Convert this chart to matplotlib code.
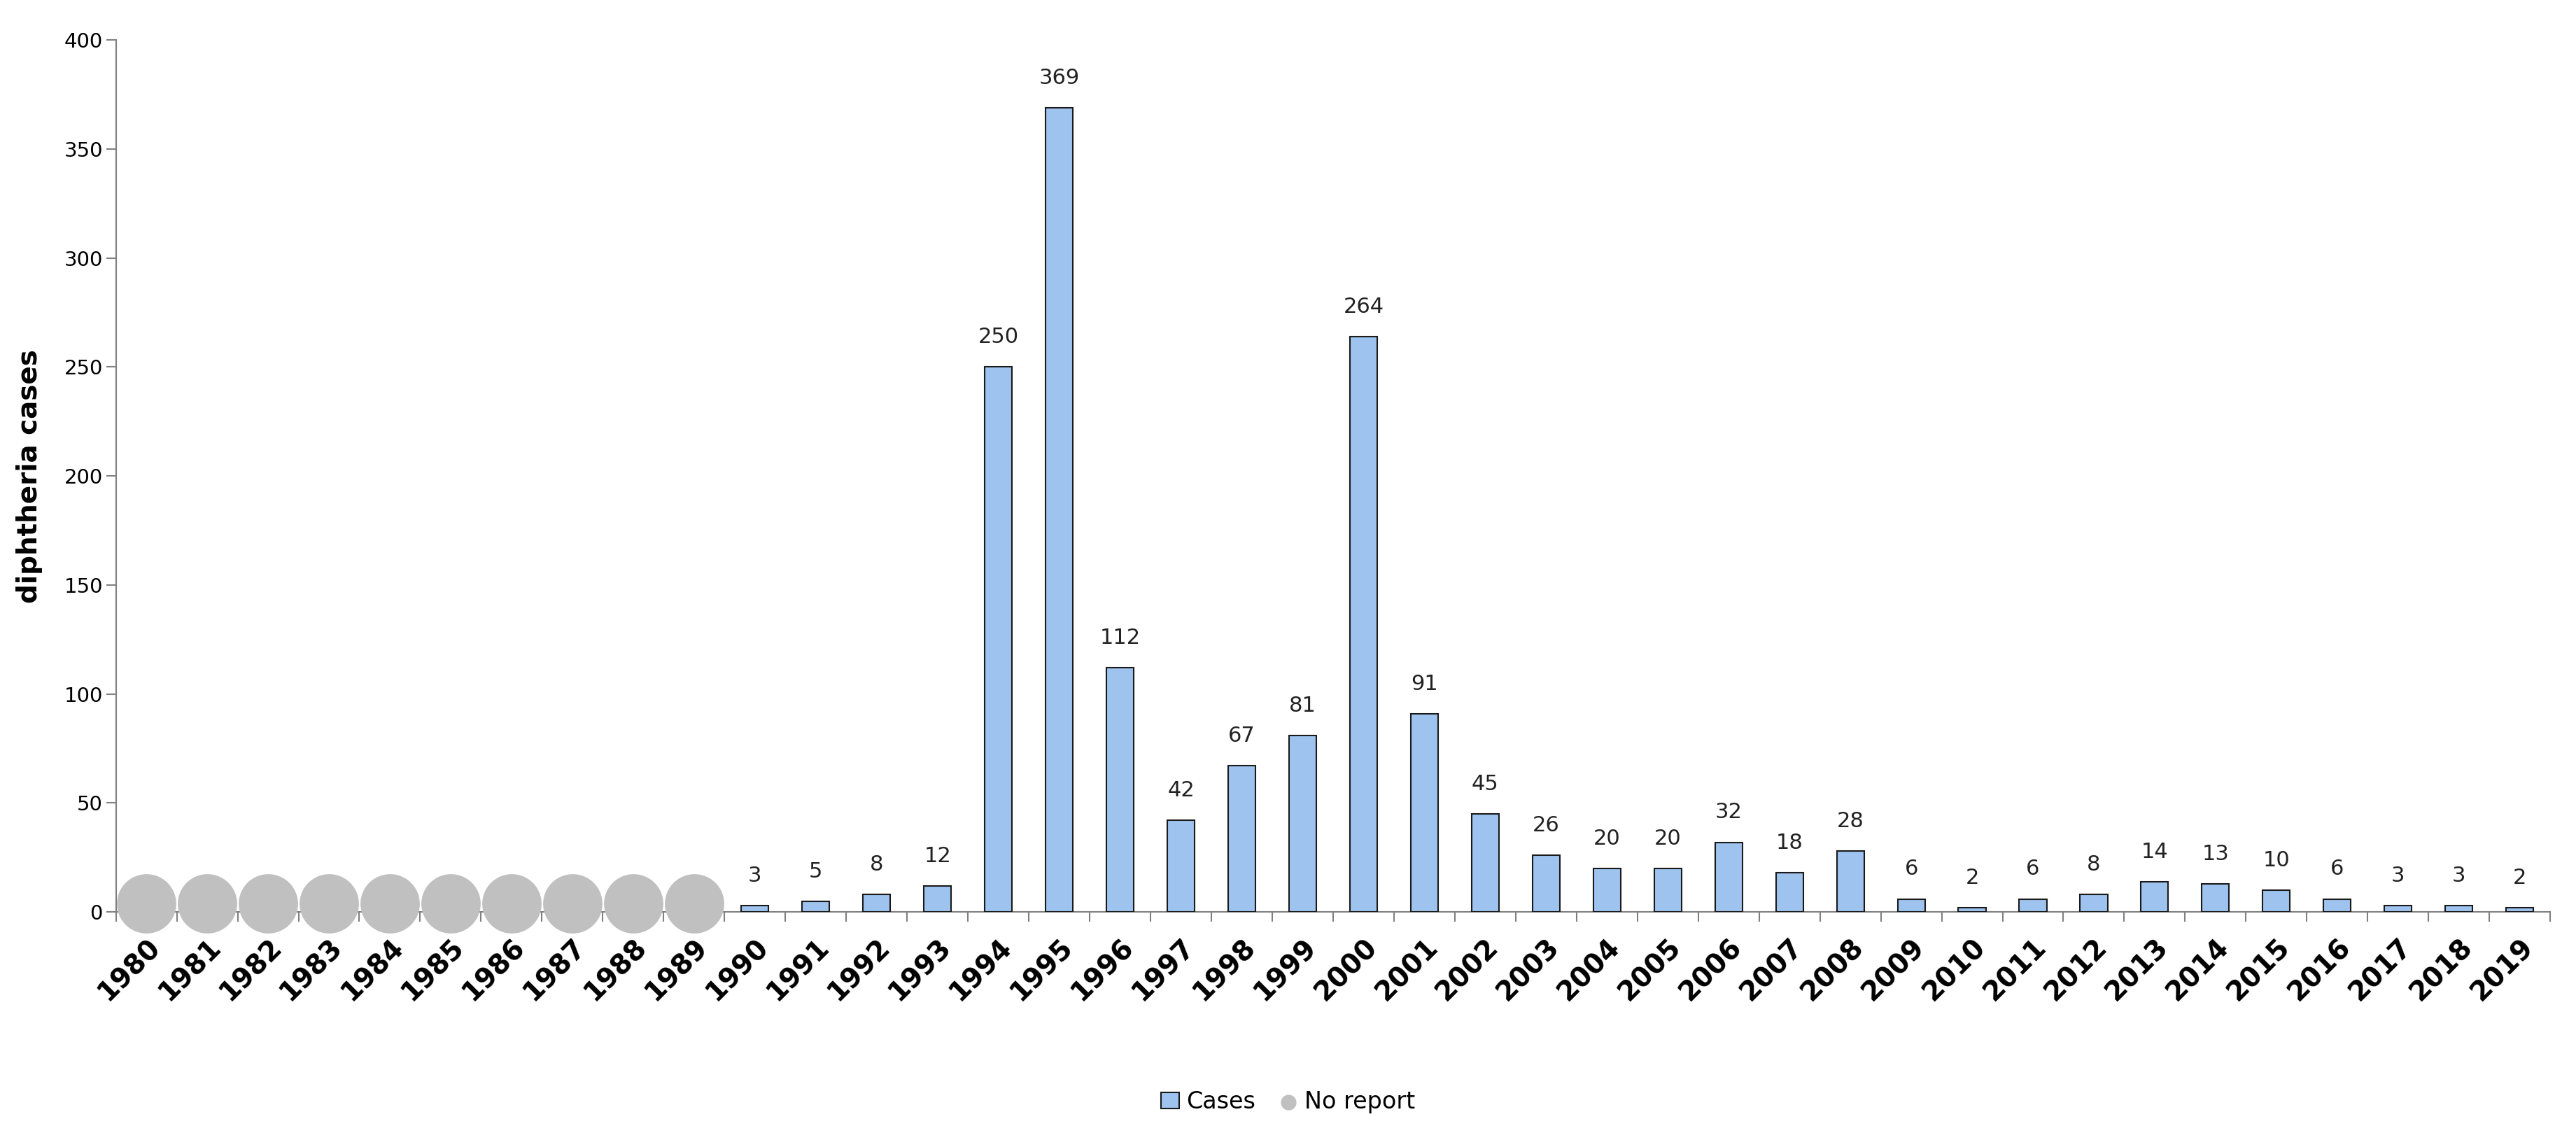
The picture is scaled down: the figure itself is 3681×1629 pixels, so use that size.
import numpy as np
import matplotlib.pyplot as plt

years = list(range(1980, 2020))
no_report_years = list(range(1980, 1990))
case_years = list(range(1990, 2020))
cases = [3, 5, 8, 12, 250, 369, 112, 42, 67, 81, 264, 91, 45, 26, 20, 20, 32, 18, 28,
         6, 2, 6, 8, 14, 13, 10, 6, 3, 3, 2]

fig, ax = plt.subplots(figsize=(36.81, 16.29), dpi=100)
fig.subplots_adjust(left=0.045, right=0.99, top=0.965, bottom=0.2)

x_all = np.arange(len(years))
x_cases = np.array([years.index(y) for y in case_years])
x_nr = np.array([years.index(y) for y in no_report_years])

bars = ax.bar(x_cases, cases, width=0.45, color='#9dc3ee', edgecolor='#1a1a1a', linewidth=1.5,
              label='Cases', zorder=3)
dots = ax.scatter(x_nr, [4] * len(x_nr), s=3600, color='#c0c0c0', label='No report', zorder=4,
                  clip_on=False)

for xi, v in zip(x_cases, cases):
    ax.text(xi, v + 9, str(v), ha='center', va='bottom', fontsize=22, color='#222222')

ax.set_xlim(-0.5, len(years) - 0.5)
ax.set_ylim(0, 400)
ax.set_yticks(range(0, 401, 50))
ax.set_xticks(x_all)
ax.set_xticklabels([str(y) for y in years], rotation=45, ha='right', rotation_mode='anchor',
                   fontsize=28, fontweight='bold')
ax.set_xticks(np.arange(-0.5, len(years), 1), minor=True)
ax.tick_params(axis='x', which='major', length=0, pad=22)
ax.tick_params(axis='x', which='minor', length=10, width=1.5, color='#808080')
ax.tick_params(axis='y', labelsize=21, length=10, width=1.5, color='#808080')
ax.set_ylabel('diphtheria cases', fontsize=28, fontweight='bold', labelpad=22)

for s in ['top', 'right']:
    ax.spines[s].set_visible(False)
for s in ['left', 'bottom']:
    ax.spines[s].set_color('#808080')
    ax.spines[s].set_linewidth(1.5)

fig.legend([bars, dots], ['Cases', 'No report'], loc='lower center',
           bbox_to_anchor=(0.5, 0.005), ncol=2, frameon=False, fontsize=24,
           handlelength=0.8, handletextpad=0.3, columnspacing=1.0, markerscale=0.25)

fig.savefig('out.png')
